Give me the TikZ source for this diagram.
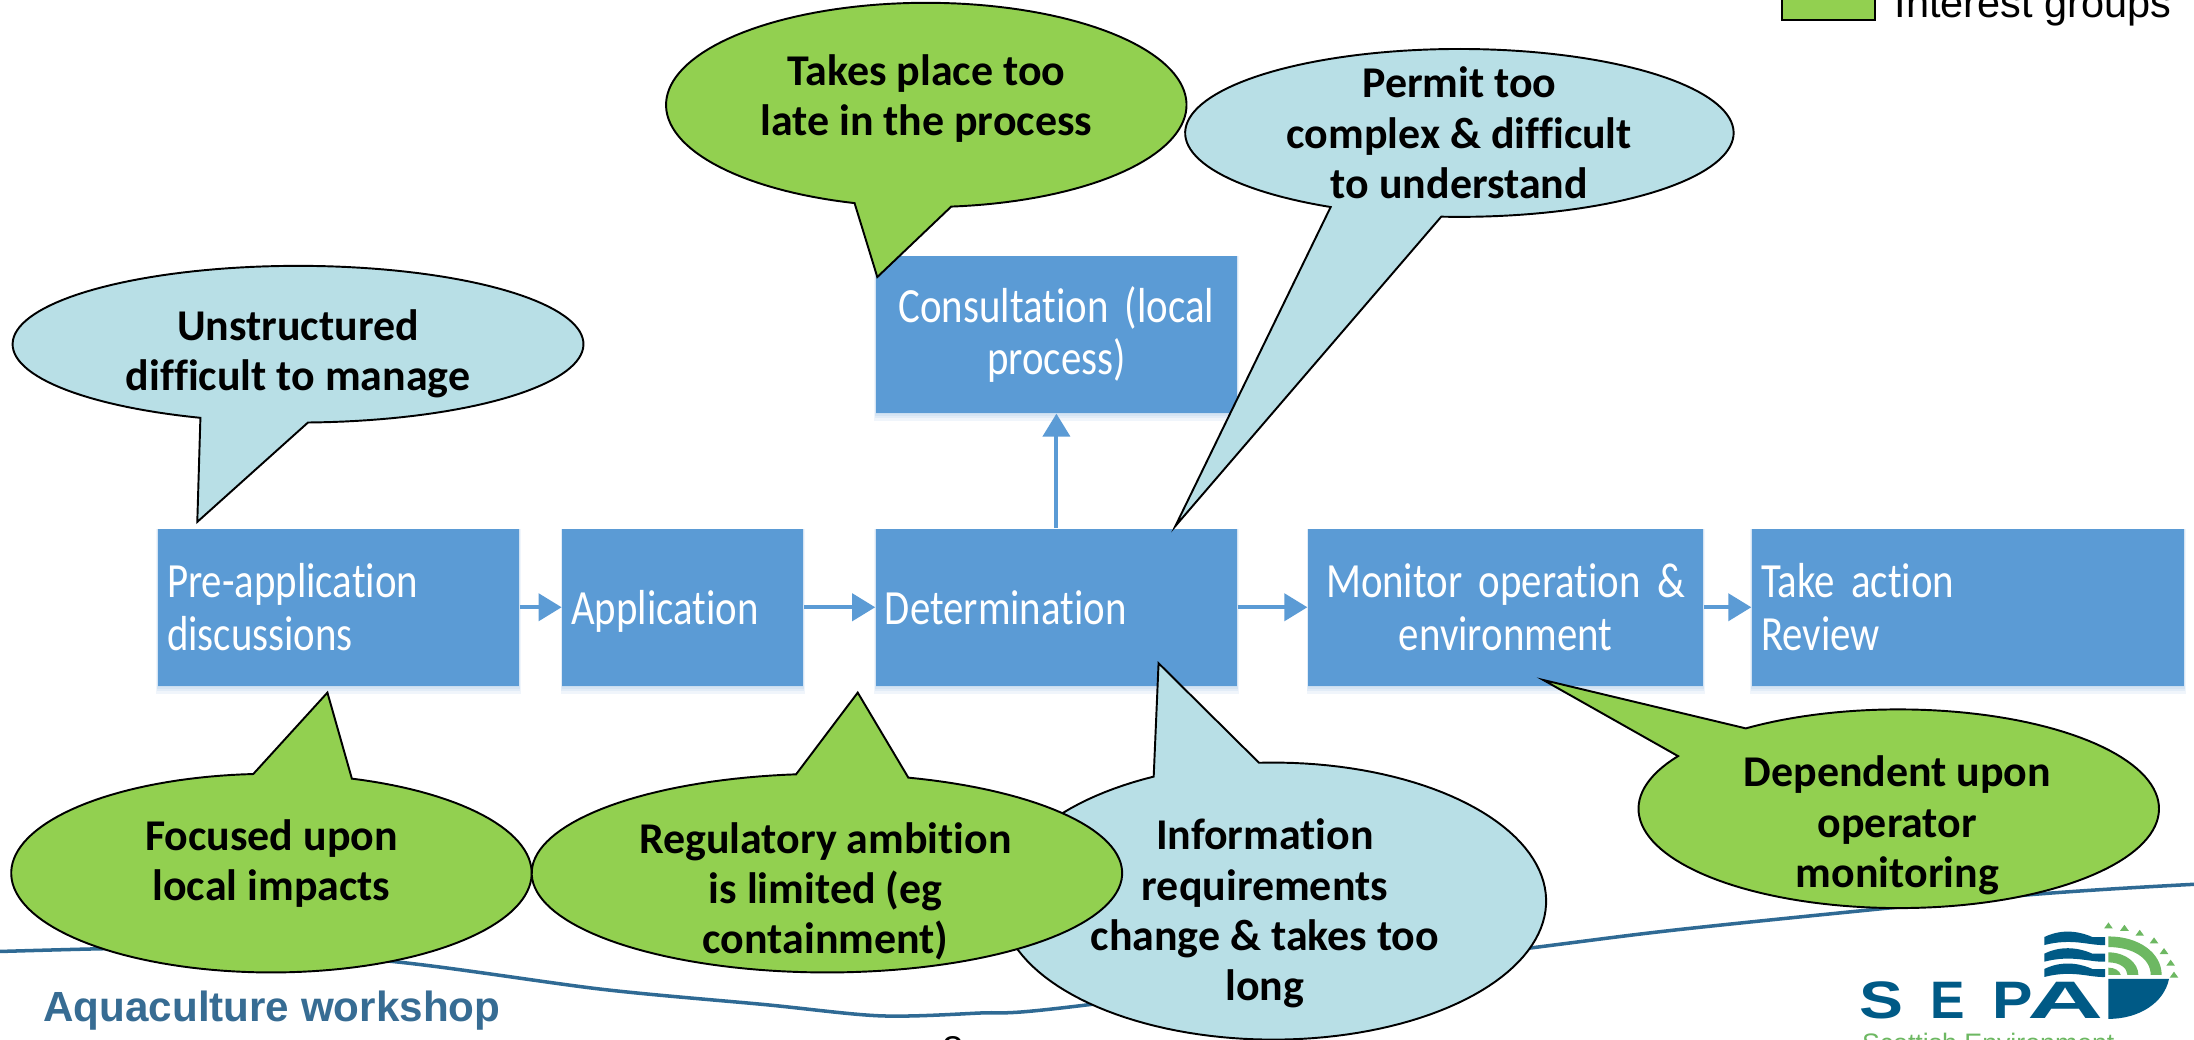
\documentclass[tikz,border=0pt]{standalone}
\usepackage{fontspec}
\setmainfont[Ligatures=NoCommon]{Carlito}
\newfontfamily\boxf[FakeStretch=0.83,Ligatures=NoCommon,WordSpace=0.5]{Carlito}
\newfontfamily\arialf{Liberation Sans}
\usetikzlibrary{arrows.meta}
\definecolor{boxblue}{HTML}{5B9BD5}
\definecolor{calgreen}{HTML}{92D050}
\definecolor{calblue}{HTML}{B8DFE6}
\definecolor{wave}{HTML}{2F6A94}
\definecolor{sepablue}{HTML}{005A86}
\definecolor{sepagreen}{HTML}{6DB862}
\definecolor{wstext}{HTML}{376C93}
\tikzset{
  stepbox/.style={rectangle,fill=boxblue,text=white,inner xsep=0.09cm,inner ysep=0pt,minimum height=1.57cm,
     font=\boxf\fontsize{14}{15}\selectfont},
  oneline/.style={text height=13pt,text depth=3pt},
  boxshadow/.style={fill=boxblue,opacity=.09},
  flow/.style={draw=boxblue,line width=1.1pt,-{Triangle[length=0.23cm,width=0.27cm]}},
  calltext/.style={align=center,font=\fontsize{12.5}{14.3}\selectfont\bfseries,text=black,inner sep=0pt},
  calloutline/.style={draw=black,line width=0.55pt,line join=miter},
}
\newcommand{\callshape}[9]{%
  \draw[calloutline,fill=#9] plot[domain=#5:#6,samples=140] ({#1+#3*cos(\x)},{#2+#4*sin(\x)}) -- (#7,#8) -- cycle;}
\begin{document}
\begin{tikzpicture}
\clip (0,0) rectangle (21.94,-10.40);
\fill[white] (0,0) rectangle (21.94,-10.40);
\begin{scope}[x=0.013992cm,y=-0.013992cm]
% wave line
\draw[wave,line width=1pt,line cap=round] plot[smooth,tension=.5] coordinates {(0,680) (76,678) (130,678) (279,687) (430,707) (547,718) (629,726) (700,724) (766,719.5) (1090,678) (1215,662.7) (1444,640) (1568,632)};

% legend
\node[draw=black,line width=0.6pt,fill=calgreen,minimum width=0.93cm,minimum height=1cm,inner sep=0pt,anchor=south west] (legbox) at (1273,15) {};
\node[font=\arialf\fontsize{11.8}{12}\selectfont,anchor=base west,inner sep=0pt] (legtext) at (1353.5,12.5) {Interest groups};

% shadows
\foreach \a/\b/\c/\d in {113/371/378/490,402/574/378/490,626/884/378/490,935/1217/378/490,1252/1561/378/490,626/884/183/295}{
  \foreach \s in {1,2.5,4,6}{
    \fill[boxshadow] (\a-\s/5,\c) rectangle (\b+\s/5,\d+\s);
  }
}
% boxes
\node[stepbox,minimum width=3.61cm,text width=3.43cm,align=left] (pre) at (242,434) {Pre-application\\discussions};
\node[stepbox,oneline,minimum width=2.41cm,text width=2.23cm,align=left] (app) at (488,434) {Application};
\node[stepbox,oneline,minimum width=3.61cm,text width=3.43cm,align=left] (det) at (755,434) {Determination};
\node[stepbox,minimum width=3.61cm,text width=3.43cm,align=center] (con) at (755,239) {Consultation (local\\process)};
\node[stepbox,minimum width=3.95cm,text width=3.77cm,align=center] (mon) at (1076,434) {Monitor operation \&\\environment};
\node[stepbox,minimum width=4.32cm,text width=4.14cm,align=left] (tak) at (1406.5,434) {Take action\\Review};
% arrows
\draw[flow] (pre) -- (app);
\draw[flow] (app) -- (det);
\draw[flow] (det) -- (mon);
\draw[flow] (mon) -- (tak);
\draw[flow] (det) -- (con);

% callouts
\callshape{1043}{95}{196}{60}{118}{453.8}{840}{376}{calblue}
\callshape{662}{75}{186}{73}{106}{444.5}{627}{198}{calgreen}
\callshape{213}{246}{204}{56}{110}{448}{141}{373}{calblue}
\callshape{910}{644}{195}{99}{267}{604}{828}{474}{calblue}
\callshape{194}{624}{186}{71}{288}{626}{234}{495}{calgreen}
\callshape{591}{624}{211}{71}{286}{624}{613}{495}{calgreen}
\callshape{1357}{578}{186}{71}{234}{572}{1103}{486}{calgreen}

\node[calltext] (t1) at (662,70.5) {Takes place too\\late in the process};
\node[calltext] (t2) at (1043,95) {Permit too\\complex \& difficult\\to understand};
\node[calltext] (t3) at (213,253) {Unstructured\\difficult to manage};
\node[calltext] (t4) at (194,617) {Focused upon\\local impacts};
\node[calltext] (t5) at (590,637) {Regulatory ambition\\is limited (eg\\containment)};
\node[calltext] (t6) at (904,653) {Information\\requirements\\change \& takes too\\long};
\node[calltext] (t7) at (1356,590) {Dependent upon\\operator\\monitoring};

\node[font=\arialf\bfseries\fontsize{12}{13}\selectfont,text=wstext,anchor=base west,inner sep=0pt] (ws) at (30.5,730) {Aquaculture workshop};
\node[font=\arialf\fontsize{11}{12}\selectfont,anchor=base,inner sep=0pt] (pg) at (681,760) {8};
\end{scope}

% logo, units of 1/3 px
\begin{scope}[shift={(17cm,-8.2cm)},x=0.003333cm,y=-0.003333cm]
\node[font=\arialf\bfseries\fontsize{15}{15}\selectfont,text=sepablue,anchor=base west,inner sep=0pt] (sepa) at (476,598) {\makebox[20.4pt][l]{\scalebox{1.25}[1]{S}}\makebox[17.55pt][l]{\scalebox{0.98}[1]{E}}\makebox[10pt][l]{\scalebox{1.15}[1]{P}}\scalebox{2.0}[1]{A}};
\foreach \d in {0,50,96}{
  \fill[sepablue] (1035,352+\d) .. controls (1080,330+\d) and (1130,330+\d) .. (1180,352+\d) -- (1218,352+\d) -- (1218,376+\d) .. controls (1170,378+\d) and (1120,354+\d) .. (1035,376+\d) -- cycle;
}
\fill[sepablue] (1228,478) -- (1410,478) .. controls (1395,550) and (1320,598) .. (1228,598) -- cycle;
\fill[sepagreen] (1228,350) .. controls (1320,350) and (1388,400) .. (1388,466) -- (1355,466) .. controls (1355,415) and (1300,382) .. (1228,382) -- cycle;
\fill[sepagreen] (1228,398) .. controls (1280,398) and (1318,430) .. (1318,466) -- (1285,466) .. controls (1285,445) and (1262,428) .. (1228,428) -- cycle;
\fill[sepagreen] (1228,444) .. controls (1245,444) and (1262,452) .. (1265,466) -- (1228,466) -- cycle;
\foreach \x/\y in {1228/318,1276/325,1322/340,1365/363,1395/395,1415/430,1425/466}{
  \fill[sepagreen] (\x-13,\y+8) -- (\x+13,\y+8) -- (\x,\y-10) -- cycle;
}
\node[font=\arialf\fontsize{7.6}{8}\selectfont,text=sepagreen,anchor=base west,inner sep=0pt] (sepb) at (485,700) {Scottish Environment};
\end{scope}
\end{tikzpicture}
\end{document}
